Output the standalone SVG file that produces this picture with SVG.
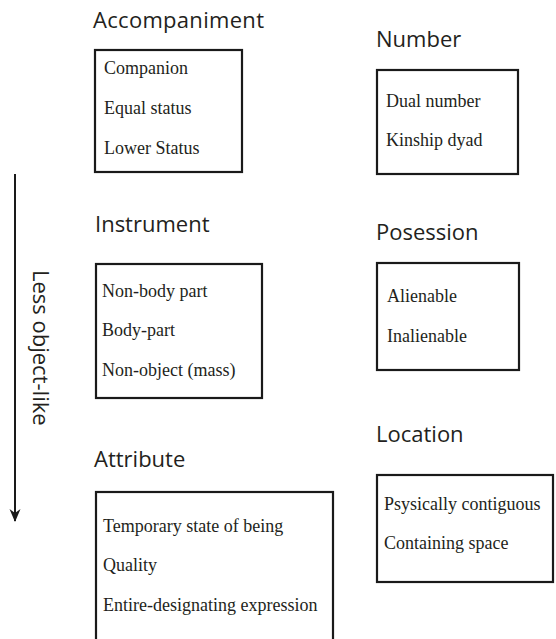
<svg xmlns="http://www.w3.org/2000/svg" width="556" height="639" viewBox="0 0 556 639">
<style>
.title{font-family:"Open Sans","Liberation Sans",sans-serif;font-size:22px;fill:#231f20}
.item{font-family:"Liberation Serif","Times New Roman",serif;font-size:18px;fill:#231f20}
.box{fill:#fff;stroke:#1a1a1a;stroke-width:2.2}
.conn{stroke:#1a1a1a;stroke-width:2;fill:none}
</style>
<defs>
<marker id="ah" markerWidth="14" markerHeight="12" refX="13" refY="6" orient="auto" markerUnits="userSpaceOnUse" viewBox="0 0 14 12">
<path d="M14,6 L1,0.5 L5,6 L1,11.5 Z" fill="#1a1a1a"/>
</marker>
</defs>
<rect width="556" height="639" fill="#fff"/>

<g id="connectors">
<line class="conn" x1="15" y1="174" x2="15" y2="521" marker-end="url(#ah)"/>
<text class="title" x="33" y="270" transform="rotate(90 33 270)">Less object-like</text>
</g>

<g id="accompaniment">
<text class="title" x="93" y="28" letter-spacing="0.3">Accompaniment</text>
<rect class="box" x="95" y="50" width="147" height="122"/>
<text class="item" x="104" y="74">Companion</text>
<text class="item" x="104" y="114">Equal status</text>
<text class="item" x="104" y="154">Lower Status</text>
</g>

<g id="number">
<text class="title" x="376" y="47">Number</text>
<rect class="box" x="377" y="70" width="141" height="104"/>
<text class="item" x="386" y="107">Dual number</text>
<text class="item" x="386" y="146">Kinship dyad</text>
</g>

<g id="instrument">
<text class="title" x="95" y="232">Instrument</text>
<rect class="box" x="96" y="264" width="166" height="134"/>
<text class="item" x="102" y="297">Non-body part</text>
<text class="item" x="102" y="336">Body-part</text>
<text class="item" x="102" y="376">Non-object (mass)</text>
</g>

<g id="posession">
<text class="title" x="376" y="240">Posession</text>
<rect class="box" x="377" y="263" width="142" height="107"/>
<text class="item" x="387" y="302">Alienable</text>
<text class="item" x="387" y="342">Inalienable</text>
</g>

<g id="attribute">
<text class="title" x="94" y="467">Attribute</text>
<rect class="box" x="96" y="492" width="237" height="160"/>
<text class="item" x="103" y="532">Temporary state of being</text>
<text class="item" x="103" y="571">Quality</text>
<text class="item" x="103" y="611">Entire-designating expression</text>
</g>

<g id="location">
<text class="title" x="376" y="442">Location</text>
<rect class="box" x="377" y="475" width="176" height="107"/>
<text class="item" x="384" y="510">Psysically contiguous</text>
<text class="item" x="384" y="549">Containing space</text>
</g>
</svg>
